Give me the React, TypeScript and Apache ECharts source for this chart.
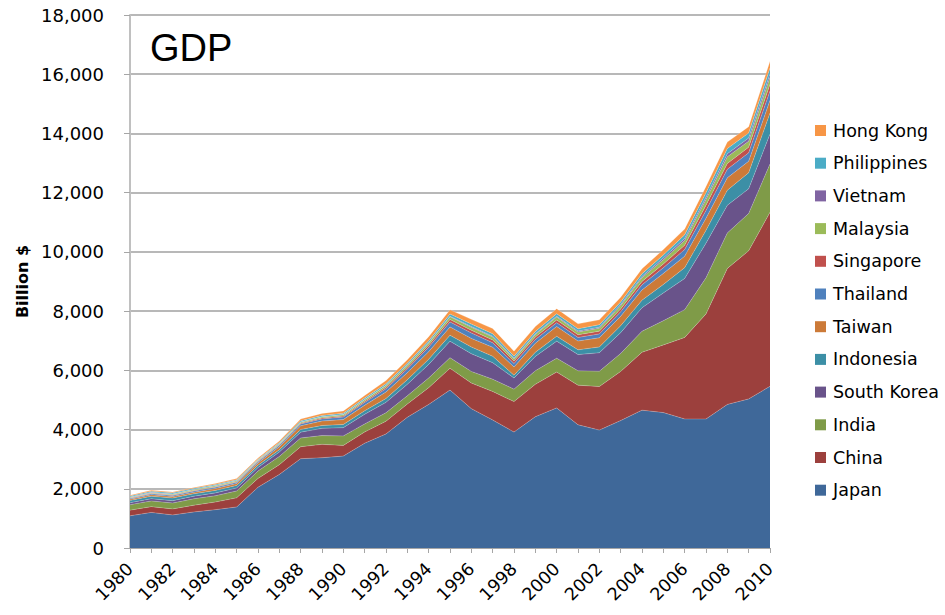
import React, { useEffect, useRef } from "react";
import * as echarts from "echarts";

const years = [
  "1980","1981","1982","1983","1984","1985","1986","1987","1988","1989",
  "1990","1991","1992","1993","1994","1995","1996","1997","1998","1999",
  "2000","2001","2002","2003","2004","2005","2006","2007","2008","2009","2010",
];

const japan = [1087,1201,1117,1218,1295,1385,2051,2486,3016,3049,3104,3537,3853,4415,4850,5334,4706,4324,3915,4433,4731,4160,3981,4303,4655,4572,4357,4356,4849,5035,5459];
const china = [191,196,203,228,257,309,300,327,404,451,361,383,427,445,564,734,864,962,1029,1094,1211,1339,1471,1660,1955,2286,2752,3550,4594,5002,5878];
const india = [186,193,200,218,212,232,248,279,296,296,321,270,288,279,327,360,392,415,421,458,468,485,515,607,709,820,940,1217,1199,1260,1630];
const southKorea = [65,72,78,87,97,101,116,147,197,244,279,325,350,387,456,556,598,558,375,486,576,547,627,703,793,935,1053,1172,931,834,1014];
const indonesia = [72,85,90,81,85,87,80,76,88,95,106,116,128,158,177,202,227,216,95,140,165,160,196,235,257,286,365,432,510,540,707];
const taiwan = [42,49,49,53,61,64,78,104,126,153,166,187,223,236,257,279,292,304,280,304,331,299,307,317,346,375,388,408,417,392,430];
const thailand = [32,35,37,40,42,39,43,51,62,72,85,98,111,128,146,169,183,151,113,126,126,120,134,152,173,189,222,263,291,282,319];
const singapore = [12,14,16,18,19,19,18,21,25,30,36,43,49,58,71,84,92,96,85,86,96,90,92,97,115,127,148,180,193,192,223];
const malaysia = [25,25,27,30,34,31,28,32,35,38,44,49,59,66,74,88,100,100,72,79,94,92,101,110,125,144,163,194,231,202,238];
const vietnam = [10,10,9,9,9,9,8,8,7,6,7,10,10,13,16,21,25,27,27,29,31,33,35,40,45,58,66,77,99,106,116];
const philippines = [32,36,37,33,31,31,30,33,38,43,44,45,53,54,64,74,83,82,66,76,81,76,81,84,91,103,122,149,174,168,200];
const hongKong = [29,31,32,30,34,36,41,50,59,69,77,89,104,121,136,145,159,177,169,166,172,170,166,162,170,182,193,212,219,214,225];

const seriesNames = ["Japan","China","India","South Korea","Indonesia","Taiwan","Thailand","Singapore","Malaysia","Vietnam","Philippines","Hong Kong"];
const seriesData = [japan,china,india,southKorea,indonesia,taiwan,thailand,singapore,malaysia,vietnam,philippines,hongKong];
const seriesColors = ["#3F6899","#9C403D","#7F9B48","#69538A","#3C8FA6","#CC7A38","#4F81BD","#C0504D","#9BBB59","#8064A2","#4BACC6","#F79646"];

export default function App() {
  const ref = useRef<HTMLDivElement>(null);
  useEffect(() => {
    if (!ref.current) return;
    const chart = echarts.init(ref.current, null, { renderer: "svg" });
    const font = "DejaVu Sans";
    chart.setOption({
      animation: false,
      backgroundColor: "#ffffff",
      title: {
        text: "GDP",
        left: 145,
        top: 24,
        textStyle: { fontFamily: "Liberation Sans", fontSize: 38, fontWeight: "normal", color: "#000" },
      },
      grid: { left: 130, right: 175, top: 15, bottom: 67, containLabel: false },
      legend: {
        orient: "vertical",
        left: 810,
        top: 116,
        itemWidth: 11,
        itemHeight: 11,
        itemGap: 13.7,
        icon: "rect",
        data: [...seriesNames].reverse(),
        textStyle: { fontFamily: font, fontSize: 17.5, color: "#000", lineHeight: 19, padding: [0, 0, 0, 2] },
      },
      xAxis: {
        type: "category",
        data: years,
        boundaryGap: false,
        axisLine: { lineStyle: { color: "#a6a6a6", width: 1 } },
        axisTick: { show: true, interval: 0, length: 5, lineStyle: { color: "#a6a6a6" } },
        axisLabel: { interval: 1, rotate: 45, fontFamily: font, fontSize: 17.5, color: "#000", margin: 18 },
        splitLine: { show: false },
      },
      yAxis: {
        type: "value",
        min: 0,
        max: 18000,
        interval: 2000,
        name: "Billion $",
        nameLocation: "middle",
        nameGap: 93,
        nameTextStyle: { fontFamily: font, fontSize: 16, fontWeight: "bold", color: "#000" },
        axisLine: { show: true, lineStyle: { color: "#c0c0c0", width: 2 } },
        axisTick: { show: true, length: 6, lineStyle: { color: "#a6a6a6" } },
        axisLabel: {
          fontFamily: font,
          fontSize: 18,
          color: "#000",
          margin: 26,
          formatter: (v: number) => v.toLocaleString("en-US"),
        },
        splitLine: { lineStyle: { color: "#a0a0a0", width: 1.5 } },
      },
      series: seriesNames.map((name, i) => ({
        name,
        type: "line",
        stack: "total",
        data: seriesData[i],
        symbol: "none",
        lineStyle: { width: 0.6, color: "rgba(255,255,255,0.35)" },
        areaStyle: { color: seriesColors[i], opacity: 1 },
        itemStyle: { color: seriesColors[i] },
      })),
    });
    return () => chart.dispose();
  }, []);
  return <div ref={ref} style={{ width: 945, height: 615, position: "absolute", left: 0, top: 0 }} />;
}
